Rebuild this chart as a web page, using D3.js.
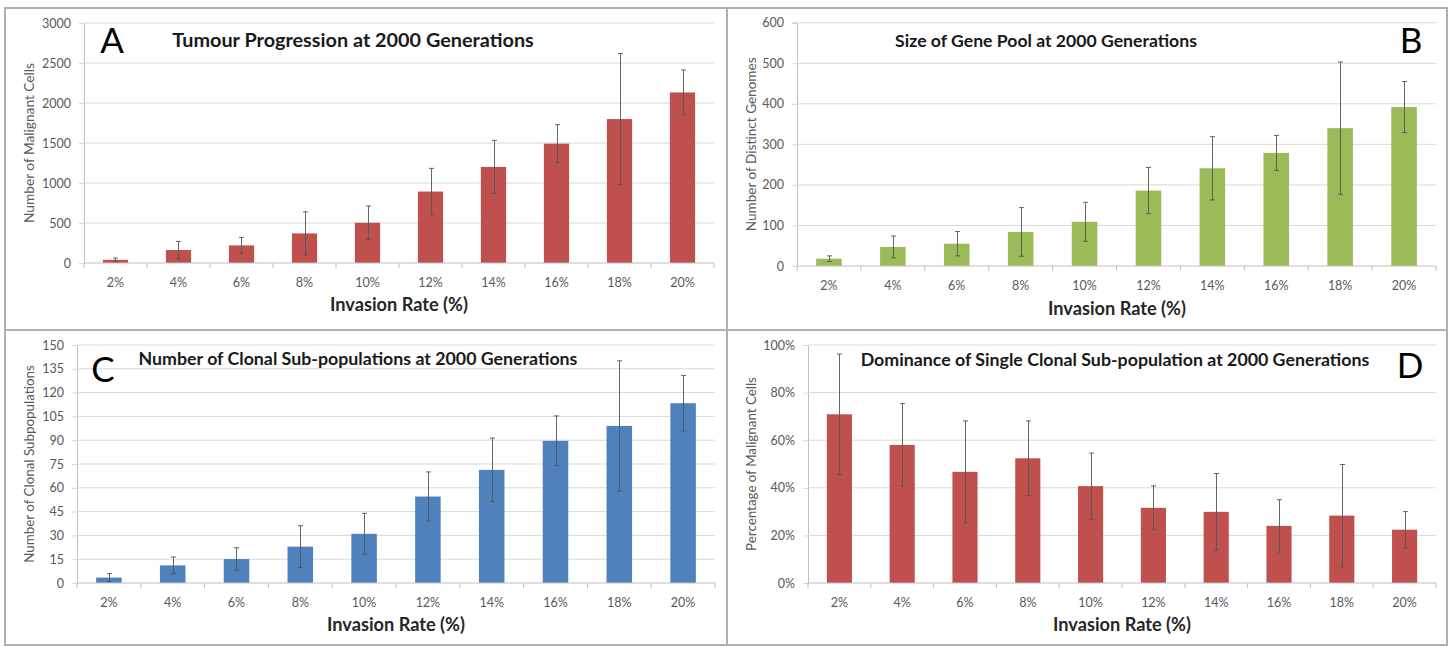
<!DOCTYPE html>
<html>
<head>
<meta charset="utf-8">
<script src="https://cdn.jsdelivr.net/npm/d3@7"></script>
<style>
  html, body { margin: 0; padding: 0; background: #fff; }
  svg { display: block; font-family: Lato, "Open Sans", sans-serif; }
</style>
</head>
<body>
<svg id="chart" width="1450" height="647"></svg>
<script>
// ---------- data ----------
const categories = ["2%", "4%", "6%", "8%", "10%", "12%", "14%", "16%", "18%", "20%"];

const tumourMeans = [40, 162, 220, 370, 503, 893, 1201, 1492, 1799, 2132];
const tumourErrs  = [22, 108, 100, 270, 210, 290, 332, 237, 820, 280];
const tumourTicks = [0, 500, 1000, 1500, 2000, 2500, 3000];

const genePoolMeans = [18, 47, 55, 84, 109, 186, 241, 279, 340, 392];
const genePoolErrs  = [7, 27, 30, 60, 48, 57, 78, 43, 163, 63];
const genePoolTicks = [0, 100, 200, 300, 400, 500, 600];

const clonalMeans = [3.4, 11.1, 15.1, 22.9, 31, 54.5, 71.3, 89.6, 99, 113.3];
const clonalErrs  = [2.5, 5.3, 7.1, 13.2, 12.9, 15.5, 20, 15.7, 41, 17.5];
const clonalTicks = [0, 15, 30, 45, 60, 75, 90, 105, 120, 135, 150];

const dominanceMeans = [70.9, 58, 46.7, 52.4, 40.7, 31.6, 29.9, 24, 28.3, 22.4];
const dominanceErrs  = [25.3, 17.4, 21.4, 15.7, 13.9, 9.2, 16.1, 11, 21.5, 7.6];
const dominanceTicks = [0, 20, 40, 60, 80, 100];

const titles = [
  "Tumour Progression at 2000 Generations",
  "Size of Gene Pool at 2000 Generations",
  "Number of Clonal Sub-populations at 2000 Generations",
  "Dominance of Single Clonal Sub-population at 2000 Generations"
];
const yLabels = [
  "Number of Malignant Cells",
  "Number of Distinct Genomes",
  "Number of Clonal Subpopulations",
  "Percentage of Malignant Cells"
];
const panelLetters = ["A", "B", "C", "D"];
const xTitle = "Invasion Rate (%)";

// ---------- layout ----------
const panels = [
  { means: tumourMeans, errs: tumourErrs, ticks: tumourTicks, fmt: d => d, color: "#C0504D",
    x0: 84, x1: 714, yTop: 23, yBot: 263, ylabX: 29, ylw: 160,
    title: titles[0], tx: 353, ty: 47, tw: 362,
    ylab: yLabels[0], letter: panelLetters[0], lx: 112, ly: 53,
    xt: 399, xty: 311 },
  { means: genePoolMeans, errs: genePoolErrs, ticks: genePoolTicks, fmt: d => d, color: "#9BBB59",
    x0: 797, x1: 1436, yTop: 22.7, yBot: 266, ylabX: 751, ylw: 174,
    title: titles[1], tx: 1046, ty: 47, tw: 302,
    ylab: yLabels[1], letter: panelLetters[1], lx: 1411, ly: 53,
    xt: 1117, xty: 315 },
  { means: clonalMeans, errs: clonalErrs, ticks: clonalTicks, fmt: d => d, color: "#4F81BD",
    x0: 77, x1: 715, yTop: 345, yBot: 583, ylabX: 29, ylw: 198,
    title: titles[2], tx: 358, ty: 365, tw: 439,
    ylab: yLabels[2], letter: panelLetters[2], lx: 103, ly: 382,
    xt: 396, xty: 631 },
  { means: dominanceMeans, errs: dominanceErrs, ticks: dominanceTicks, fmt: d => d + "%", color: "#C0504D",
    x0: 808, x1: 1436, yTop: 345, yBot: 583, ylabX: 751, ylw: 174,
    title: titles[3], tx: 1115, ty: 366, tw: 509,
    ylab: yLabels[3], letter: panelLetters[3], lx: 1410, ly: 378,
    xt: 1122, xty: 631 }
];

const svg = d3.select("#chart");

// frame
const frame = svg.append("g").attr("fill", "none").attr("stroke", "#B0B0B0").attr("stroke-width", 2);
frame.append("rect").attr("x", 5).attr("y", 8).attr("width", 1442).attr("height", 637);
frame.append("line").attr("x1", 727).attr("x2", 727).attr("y1", 8).attr("y2", 645);
frame.append("line").attr("x1", 5).attr("x2", 1447).attr("y1", 330).attr("y2", 330);

function fitText(sel, target, base) {
  sel.attr("font-size", base);
  const w = sel.node().getComputedTextLength();
  if (w > 0) sel.attr("font-size", base * target / w);
}

panels.forEach(p => {
  const g = svg.append("g");
  const x = d3.scaleBand().domain(categories).range([p.x0, p.x1]).paddingInner(0.6).paddingOuter(0.3);
  const y = d3.scaleLinear().domain([0, d3.max(p.ticks)]).range([p.yBot, p.yTop]);

  // gridlines + y ticks
  const yAxis = d3.axisLeft(y).tickValues(p.ticks).tickFormat(p.fmt).tickSize(5).tickPadding(8);
  const ya = g.append("g").attr("transform", `translate(${p.x0},0)`).call(yAxis);
  ya.select(".domain").attr("stroke", "#BFBFBF");
  ya.selectAll(".tick line").attr("stroke", "#D9D9D9");
  ya.selectAll(".tick text").attr("fill", "#595959").attr("font-size", 12.5).attr("font-family", "Lato, sans-serif");
  g.append("g").selectAll("line").data(p.ticks.filter(t => t > 0)).join("line")
    .attr("x1", p.x0).attr("x2", p.x1)
    .attr("y1", d => y(d)).attr("y2", d => y(d))
    .attr("stroke", "#D9D9D9").attr("stroke-width", 1);

  // bars
  g.append("g").selectAll("rect").data(p.means).join("rect")
    .attr("x", (d, i) => x(categories[i]))
    .attr("width", x.bandwidth())
    .attr("y", d => y(d))
    .attr("height", d => y(0) - y(d))
    .attr("fill", p.color);

  // x axis
  const xb = d3.scaleLinear().domain([0, categories.length]).range([p.x0, p.x1]);
  const xa = g.append("g").attr("transform", `translate(0,${p.yBot})`);
  xa.append("line").attr("x1", p.x0).attr("x2", p.x1).attr("stroke", "#BFBFBF");
  xa.selectAll("line.tk").data(d3.range(categories.length + 1)).join("line").attr("class", "tk")
    .attr("x1", d => xb(d)).attr("x2", d => xb(d)).attr("y1", 0).attr("y2", 5).attr("stroke", "#BFBFBF");
  xa.selectAll("text").data(categories).join("text")
    .attr("x", d => x(d) + x.bandwidth() / 2)
    .attr("y", 24)
    .attr("text-anchor", "middle")
    .attr("fill", "#595959").attr("font-size", 12.5)
    .text(d => d);

  // error bars
  const eb = g.append("g").attr("stroke", "#555").attr("stroke-width", 0.9);
  p.means.forEach((m, i) => {
    const cx = Math.round(x(categories[i]) + x.bandwidth() / 2) + 0.5;
    const hi = y(m + p.errs[i]), lo = y(Math.max(0, m - p.errs[i]));
    eb.append("line").attr("x1", cx).attr("x2", cx).attr("y1", hi).attr("y2", lo);
    eb.append("line").attr("x1", cx - 2.5).attr("x2", cx + 2.5).attr("y1", hi).attr("y2", hi);
    eb.append("line").attr("x1", cx - 2.5).attr("x2", cx + 2.5).attr("y1", lo).attr("y2", lo);
  });

  // y label
  const yl = g.append("text")
    .attr("transform", `translate(${p.ylabX},${(p.yTop + p.yBot) / 2}) rotate(-90)`)
    .attr("dy", "0.35em")
    .attr("text-anchor", "middle")
    .attr("fill", "#595959")
    .text(p.ylab);
  fitText(yl, p.ylw, 12);

  // title
  const t = g.append("text")
    .attr("x", p.tx).attr("y", p.ty)
    .attr("text-anchor", "middle")
    .attr("font-weight", "bold").attr("fill", "#1a1a1a")
    .text(p.title);
  fitText(t, p.tw, 17);

  // x title
  const xt = g.append("text")
    .attr("x", p.xt).attr("y", p.xty)
    .attr("text-anchor", "middle")
    .attr("font-weight", "bold").attr("fill", "#262626")
    .text(xTitle);
  fitText(xt, 138, 16);

  // letter
  g.append("text")
    .attr("x", p.lx).attr("y", p.ly)
    .attr("text-anchor", "middle")
    .attr("fill", "#000").attr("font-size", 35).attr("font-weight", 400)
    .text(p.letter);
});
</script>
</body>
</html>
